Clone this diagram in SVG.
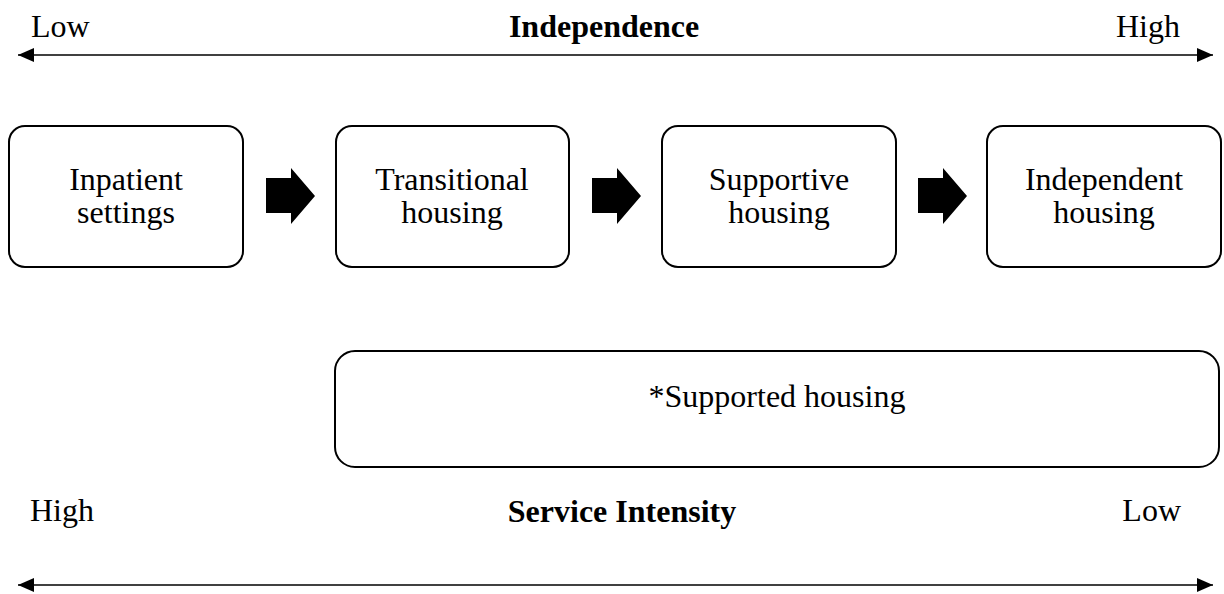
<svg xmlns="http://www.w3.org/2000/svg" width="1224" height="594" viewBox="0 0 1224 594">
<style>
text{font-family:"Liberation Serif","Times New Roman",serif;font-size:32px;fill:#000}
.b{font-weight:bold}
.m{text-anchor:middle}
.box{fill:#fff;stroke:#000;stroke-width:2}
.axis{stroke:#000;stroke-width:1.3;fill:none}
.blk{fill:#000}
</style>
<defs>
<marker id="ah" viewBox="0 0 16 14" refX="16" refY="7" markerWidth="16" markerHeight="14" markerUnits="userSpaceOnUse" orient="auto-start-reverse">
<path d="M0,0 L16,7 L0,14 Z" fill="#000"/>
</marker>
</defs>
<rect width="1224" height="594" fill="#fff"/>
<g id="connectors">
<line class="axis" x1="18" y1="55" x2="1213" y2="55" marker-start="url(#ah)" marker-end="url(#ah)"/>
<line class="axis" x1="18" y1="585" x2="1213" y2="585" marker-start="url(#ah)" marker-end="url(#ah)"/>
<polygon class="blk" points="266,178 291,178 291,168 315,196 291,224 291,213 266,213"/>
<polygon class="blk" points="592,178 617,178 617,168 641,196 617,224 617,213 592,213"/>
<polygon class="blk" points="918,178 943,178 943,168 967,196 943,224 943,213 918,213"/>
</g>
<g id="labels-top">
<text x="31" y="37">Low</text>
<text class="b m" x="604" y="37">Independence</text>
<text x="1180" y="37" text-anchor="end">High</text>
</g>
<g id="node-inpatient">
<rect class="box" x="9" y="126" width="234" height="141" rx="16"/>
<text class="m" x="126" y="190">Inpatient</text>
<text class="m" x="126" y="223">settings</text>
</g>
<g id="node-transitional">
<rect class="box" x="336" y="126" width="233" height="141" rx="16"/>
<text class="m" x="452" y="190">Transitional</text>
<text class="m" x="452" y="223">housing</text>
</g>
<g id="node-supportive">
<rect class="box" x="662" y="126" width="234" height="141" rx="16"/>
<text class="m" x="779" y="190">Supportive</text>
<text class="m" x="779" y="223">housing</text>
</g>
<g id="node-independent">
<rect class="box" x="987" y="126" width="234" height="141" rx="16"/>
<text class="m" x="1104" y="190">Independent</text>
<text class="m" x="1104" y="223">housing</text>
</g>
<g id="node-supported">
<rect class="box" x="335" y="351" width="884" height="116" rx="20"/>
<text class="m" x="777" y="407">*Supported housing</text>
</g>
<g id="labels-bottom">
<text x="30" y="521">High</text>
<text class="b m" x="622" y="522">Service Intensity</text>
<text x="1181" y="521" text-anchor="end">Low</text>
</g>
</svg>
